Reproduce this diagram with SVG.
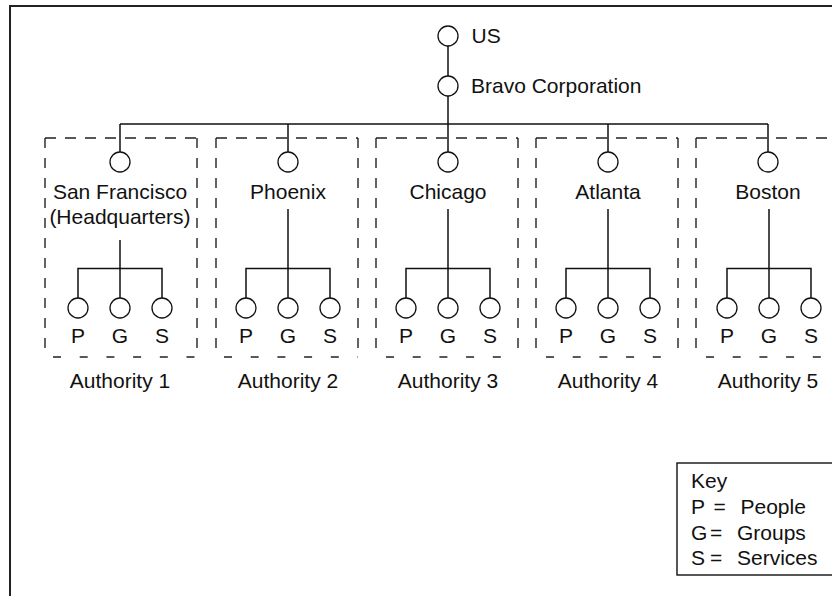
<svg xmlns="http://www.w3.org/2000/svg" width="832" height="596" viewBox="0 0 832 596">
<style>
text{font-family:"Liberation Sans",Arial,sans-serif;font-size:21px;fill:#111}
.c{text-anchor:middle}
.n{fill:#fff;stroke:#111;stroke-width:1.3}
.l{stroke:#111;stroke-width:1.5;fill:none}
.dt{stroke:#222;stroke-width:1.4;fill:none;stroke-dasharray:11 9}
.ds{stroke:#222;stroke-width:1.4;fill:none;stroke-dasharray:10 10}
.db{stroke:#222;stroke-width:1.4;fill:none;stroke-dasharray:8 18.7}
</style>
<rect x="0" y="0" width="832" height="596" fill="#fff"/>
<path d="M10 600 V6 H840" fill="none" stroke="#222" stroke-width="2"/>
<g id="connectors">
<path class="l" d="M448 46 V76 M448 96 V152 M120 124 H768 M120 124 V152 M288 124 V152 M608 124 V152 M768 124 V152"/>
<path class="l" d="M120 240 V298 M78 298 V268.5 H162 V298"/>
<path class="l" d="M288 209 V298 M246 298 V268.5 H330 V298"/>
<path class="l" d="M448 209 V298 M406 298 V268.5 H490 V298"/>
<path class="l" d="M608 209 V298 M566 298 V268.5 H650 V298"/>
<path class="l" d="M769 209 V298 M727 298 V268.5 H811 V298"/>
</g>
<g id="authority1">
<path class="dt" d="M45 138 H197"/><path class="ds" d="M45 138 V357 M197 138 V357"/><path class="db" d="M53 357 H197"/>
<text class="c" x="120" y="387.5">Authority 1</text>
</g>
<g id="authority2">
<path class="dt" d="M216 138 H358"/><path class="ds" d="M216 138 V357 M358 138 V357"/><path class="db" d="M224 357 H358"/>
<text class="c" x="288" y="387.5">Authority 2</text>
</g>
<g id="authority3">
<path class="dt" d="M376 138 H518"/><path class="ds" d="M376 138 V357 M518 138 V357"/><path class="db" d="M386 357 H518"/>
<text class="c" x="448" y="387.5">Authority 3</text>
</g>
<g id="authority4">
<path class="dt" d="M536 138 H678"/><path class="ds" d="M536 138 V357 M678 138 V357"/><path class="db" d="M546 357 H678"/>
<text class="c" x="608" y="387.5">Authority 4</text>
</g>
<g id="authority5">
<path class="dt" d="M696 138 H840"/><path class="ds" d="M696 138 V357"/><path class="db" d="M706 357 H840"/>
<text class="c" x="768" y="387.5">Authority 5</text>
</g>
<g id="us"><circle class="n" cx="448" cy="36" r="10"/><text x="471.5" y="43">US</text></g>
<g id="bravo"><circle class="n" cx="448" cy="86" r="10"/><text x="471" y="93">Bravo Corporation</text></g>
<g id="sanfrancisco"><circle class="n" cx="120" cy="162" r="10"/><text class="c" x="120" y="199">San Francisco</text><text class="c" x="120" y="224">(Headquarters)</text></g>
<g id="phoenix"><circle class="n" cx="288" cy="162" r="10"/><text class="c" x="288" y="199">Phoenix</text></g>
<g id="chicago"><circle class="n" cx="448" cy="162" r="10"/><text class="c" x="448" y="199">Chicago</text></g>
<g id="atlanta"><circle class="n" cx="608" cy="162" r="10"/><text class="c" x="608" y="199">Atlanta</text></g>
<g id="boston"><circle class="n" cx="768" cy="162" r="10"/><text class="c" x="768" y="199">Boston</text></g>
<g id="sf-pgs"><circle class="n" cx="78" cy="308" r="10"/><circle class="n" cx="120" cy="308" r="10"/><circle class="n" cx="162" cy="308" r="10"/><text class="c" x="78" y="342.5">P</text><text class="c" x="120" y="342.5">G</text><text class="c" x="162" y="342.5">S</text></g>
<g id="phx-pgs"><circle class="n" cx="246" cy="308" r="10"/><circle class="n" cx="288" cy="308" r="10"/><circle class="n" cx="330" cy="308" r="10"/><text class="c" x="246" y="342.5">P</text><text class="c" x="288" y="342.5">G</text><text class="c" x="330" y="342.5">S</text></g>
<g id="chi-pgs"><circle class="n" cx="406" cy="308" r="10"/><circle class="n" cx="448" cy="308" r="10"/><circle class="n" cx="490" cy="308" r="10"/><text class="c" x="406" y="342.5">P</text><text class="c" x="448" y="342.5">G</text><text class="c" x="490" y="342.5">S</text></g>
<g id="atl-pgs"><circle class="n" cx="566" cy="308" r="10"/><circle class="n" cx="608" cy="308" r="10"/><circle class="n" cx="650" cy="308" r="10"/><text class="c" x="566" y="342.5">P</text><text class="c" x="608" y="342.5">G</text><text class="c" x="650" y="342.5">S</text></g>
<g id="bos-pgs"><circle class="n" cx="727" cy="308" r="10"/><circle class="n" cx="769" cy="308" r="10"/><circle class="n" cx="811" cy="308" r="10"/><text class="c" x="727" y="342.5">P</text><text class="c" x="769" y="342.5">G</text><text class="c" x="811" y="342.5">S</text></g>
<g id="key">
<rect x="677" y="463" width="170" height="112" fill="#fff" stroke="#111" stroke-width="1.4"/>
<text x="691" y="488">Key</text>
<text y="513.5"><tspan x="691">P</tspan><tspan x="713.5">=</tspan><tspan x="740.5">People</tspan></text>
<text y="539.5"><tspan x="691">G</tspan><tspan x="710">=</tspan><tspan x="737">Groups</tspan></text>
<text y="565"><tspan x="691">S</tspan><tspan x="710">=</tspan><tspan x="737">Services</tspan></text>
</g>
</svg>
